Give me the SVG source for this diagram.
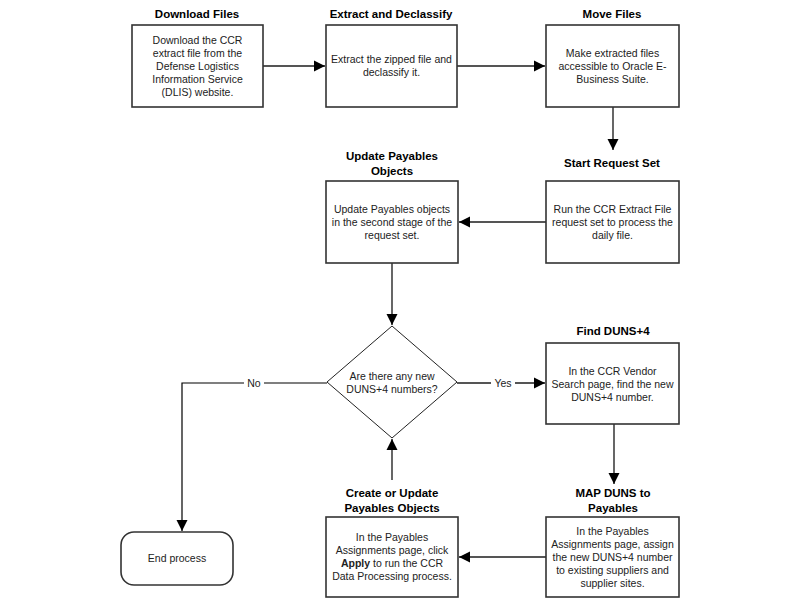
<svg xmlns="http://www.w3.org/2000/svg" width="800" height="600" viewBox="0 0 800 600">
<defs>
<marker id="arr" markerUnits="userSpaceOnUse" markerWidth="12" markerHeight="12" viewBox="0 0 12 12" refX="11" refY="6" orient="auto">
<path d="M0,0.5 L11,6 L0,11.5 Z" fill="#000"/>
</marker>
<style>
.box{fill:#fff;stroke:#333;stroke-width:1.6}
.dia{fill:#fff;stroke:#222;stroke-width:1}
.ttl{font-family:"Liberation Sans",Arial,sans-serif;font-size:11.5px;font-weight:bold;fill:#000;text-anchor:middle}
.txt{font-family:"Liberation Sans",Arial,sans-serif;font-size:10.5px;fill:#222;text-anchor:middle}
.lbl{font-family:"Liberation Sans",Arial,sans-serif;font-size:10.5px;fill:#222;text-anchor:middle}
.con{fill:none;stroke:#555;stroke-width:1.8}
.conk{fill:none;stroke:#000;stroke-width:1.2}
</style>
</defs>
<rect width="800" height="600" fill="#fff"/>

<g id="connectors">
<path class="con" d="M263,66 L325,66" marker-end="url(#arr)"/>
<path class="con" d="M457,66 L545,66" marker-end="url(#arr)"/>
<path class="conk" d="M613,107 L613,150" marker-end="url(#arr)"/>
<path class="con" d="M546,222 L459,222" marker-end="url(#arr)"/>
<path class="conk" d="M392,263 L392,325" marker-end="url(#arr)"/>
<path class="con" d="M457,383 L545,383" marker-end="url(#arr)"/>
<path class="conk" d="M327,383 L182,383 L182,531" marker-end="url(#arr)"/>
<path class="conk" d="M614,424 L614,484" marker-end="url(#arr)"/>
<path class="con" d="M546,557 L459,557" marker-end="url(#arr)"/>
<path class="conk" d="M392,480 L392,439" marker-end="url(#arr)"/>
<rect x="244" y="376" width="20" height="13" fill="#fff"/>
<text class="lbl" x="254" y="386.5">No</text>
<rect x="491" y="376" width="24" height="13" fill="#fff"/>
<text class="lbl" x="503" y="386.5">Yes</text>
</g>

<g id="download-files">
<text class="ttl" x="197" y="18">Download Files</text>
<rect class="box" x="132" y="25" width="131" height="82"/>
<text class="txt" x="197.5" y="44">Download the CCR</text>
<text class="txt" x="197.5" y="57">extract file from the</text>
<text class="txt" x="197.5" y="70">Defense Logistics</text>
<text class="txt" x="197.5" y="83">Information Service</text>
<text class="txt" x="197.5" y="96">(DLIS) website.</text>
</g>

<g id="extract-declassify">
<text class="ttl" x="391" y="18">Extract and Declassify</text>
<rect class="box" x="326" y="25" width="131" height="82"/>
<text class="txt" x="391.5" y="63">Extract the zipped file and</text>
<text class="txt" x="391.5" y="76">declassify it.</text>
</g>

<g id="move-files">
<text class="ttl" x="612" y="18">Move Files</text>
<rect class="box" x="546" y="25" width="133" height="82"/>
<text class="txt" x="612.5" y="57">Make extracted files</text>
<text class="txt" x="612.5" y="70">accessible to Oracle E-</text>
<text class="txt" x="612.5" y="83">Business Suite.</text>
</g>

<g id="start-request-set">
<text class="ttl" x="612" y="167">Start Request Set</text>
<rect class="box" x="546" y="181" width="133" height="82"/>
<text class="txt" x="612.5" y="213">Run the CCR Extract File</text>
<text class="txt" x="612.5" y="226">request set to process the</text>
<text class="txt" x="612.5" y="239">daily file.</text>
</g>

<g id="update-payables-objects">
<text class="ttl" x="392" y="160">Update Payables</text>
<text class="ttl" x="392" y="175">Objects</text>
<rect class="box" x="326" y="181" width="132" height="82"/>
<text class="txt" x="392" y="213">Update Payables objects</text>
<text class="txt" x="392" y="226">in the second stage of the</text>
<text class="txt" x="392" y="239">request set.</text>
</g>

<g id="decision">
<polygon class="dia" points="392,326 457,382 392,438 327,382"/>
<text class="txt" x="392" y="380">Are there any new</text>
<text class="txt" x="392" y="393">DUNS+4 numbers?</text>
</g>

<g id="find-duns">
<text class="ttl" x="613" y="335">Find DUNS+4</text>
<rect class="box" x="546" y="343" width="133" height="81"/>
<text class="txt" x="612.5" y="375">In the CCR Vendor</text>
<text class="txt" x="612.5" y="388">Search page, find the new</text>
<text class="txt" x="612.5" y="401">DUNS+4 number.</text>
</g>

<g id="map-duns">
<text class="ttl" x="613" y="497">MAP DUNS to</text>
<text class="ttl" x="613" y="512">Payables</text>
<rect class="box" x="546" y="517" width="133" height="80"/>
<text class="txt" x="612.5" y="535">In the Payables</text>
<text class="txt" x="612.5" y="548">Assignments page, assign</text>
<text class="txt" x="612.5" y="561">the new DUNS+4 number</text>
<text class="txt" x="612.5" y="574">to existing suppliers and</text>
<text class="txt" x="612.5" y="587">supplier sites.</text>
</g>

<g id="create-update">
<text class="ttl" x="392" y="497">Create or Update</text>
<text class="ttl" x="392" y="512">Payables Objects</text>
<rect class="box" x="326" y="517" width="132" height="80"/>
<text class="txt" x="392" y="541">In the Payables</text>
<text class="txt" x="392" y="554">Assignments page, click</text>
<text class="txt" x="392" y="567"><tspan font-weight="bold">Apply</tspan> to run the CCR</text>
<text class="txt" x="392" y="580">Data Processing process.</text>
</g>

<g id="end-process">
<rect class="box" x="121" y="532" width="112" height="53" rx="13" ry="13"/>
<text class="txt" x="177" y="562">End process</text>
</g>
</svg>
